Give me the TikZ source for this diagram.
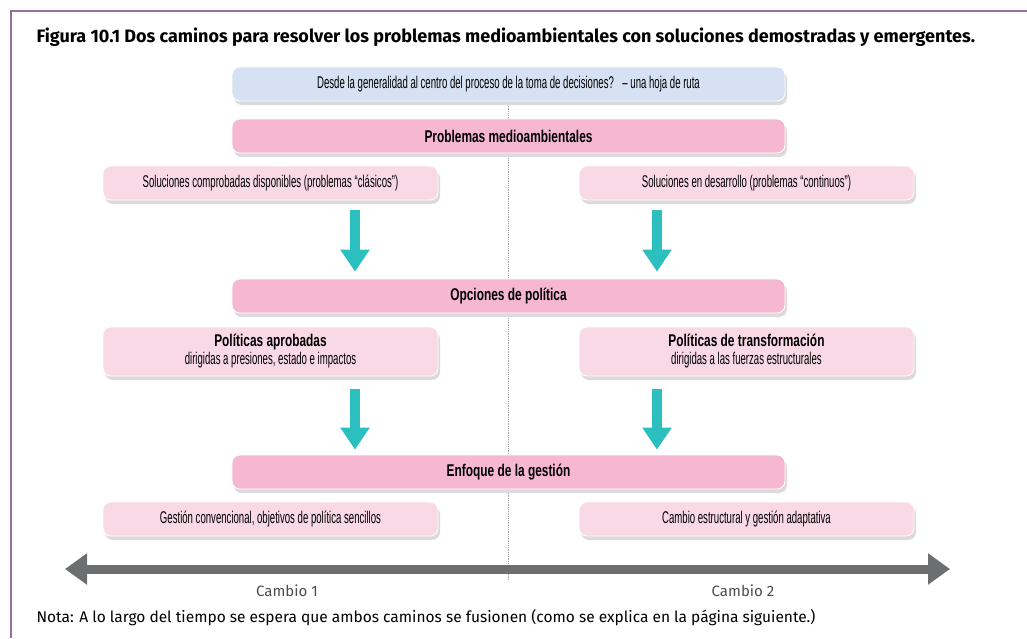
\documentclass[tikz,border=0pt]{standalone}
\usepackage{fontspec}
\setmainfont{Fira Sans}
\newfontfamily\condfont[FakeStretch=0.565]{Liberation Sans}
\newfontfamily\condbold[FakeStretch=0.7]{Liberation Sans Bold}
\usetikzlibrary{arrows.meta,shadows}

\definecolor{framecol}{RGB}{150,110,160}
\definecolor{roadblue}{RGB}{214,226,243}
\definecolor{headpink}{RGB}{245,183,210}
\definecolor{softpink}{RGB}{249,217,229}
\definecolor{tealcol}{RGB}{43,191,191}
\definecolor{timecol}{RGB}{109,110,112}

\begin{document}
\begin{tikzpicture}[
  x=1pt,
  y=-1pt,
  box/.style={rounded corners=8pt, draw=white, line width=0.8pt, align=center,
    font=\condfont\fontsize{17}{18}\selectfont, inner sep=2pt,
    drop shadow={shadow xshift=2pt, shadow yshift=-4pt, fill=black!14, opacity=1}},
  road/.style={box, fill=roadblue, minimum width=553pt, minimum height=34pt},
  stage/.style={box, fill=headpink, minimum width=553pt, minimum height=34pt,
    font=\condbold\fontsize{17}{18}\selectfont},
  path/.style={box, fill=softpink, minimum width=335pt, minimum height=34pt},
  flow/.style={-{Triangle[width=28pt, length=22pt]}, line width=10pt, tealcol},
  timeline/.style={{Triangle[width=30pt, length=22pt]}-{Triangle[width=30pt, length=22pt]},
    line width=9pt, timecol}
]
  \useasboundingbox (0,0) rectangle (1027,638);
  \draw[framecol, line width=1.5pt] (1027,11) -- (11,11) -- (11,638);

  \node[anchor=base west, font=\bfseries\fontsize{18}{20}\selectfont] (title) at (33,42)
    {Figura 10.1 Dos caminos para resolver los problemas medioambientales con soluciones demostradas y emergentes.};

  % middle divider
  \coordinate (divtop) at (508,95);
  \coordinate (divbot) at (508,580);
  \draw[densely dotted, black!35, line width=0.8pt] (divtop) -- (divbot);

  \node[road] (hoja) at (508.5,84) {Desde la generalidad al centro del proceso de la toma de decisiones?\enspace –\ una hoja de ruta};
  \node[stage] (prob) at (508.5,136) {Problemas medioambientales};
  \node[path] (sol1) at (270.5,183) {Soluciones comprobadas disponibles (problemas “clásicos”)};
  \node[path] (sol2) at (746.5,183) {Soluciones en desarrollo (problemas “continuos”)};

  \node[stage] (opc) at (508.5,296) {Opciones de política};
  \node[path, minimum height=49pt] (pol1) at (270.5,351.5)
    {{\condbold Políticas aprobadas}\\dirigidas a presiones, estado e impactos};
  \node[path, minimum height=49pt] (pol2) at (746.5,351.5)
    {{\condbold Políticas de transformación}\\dirigidas a las fuerzas estructurales};

  \node[stage] (enf) at (508.5,472) {Enfoque de la gestión};
  \node[path] (ges1) at (270.5,519) {Gestión convencional, objetivos de política sencillos};
  \node[path] (ges2) at (746.5,519) {Cambio estructural y gestión adaptativa};

  % arrows between the levels
  \coordinate (lane1) at (355,0);
  \coordinate (lane2) at (657,0);
  \draw[flow] ([yshift=-10pt]sol1.south -| lane1) -- ([yshift=7pt]opc.north -| lane1);
  \draw[flow] ([yshift=-10pt]sol2.south -| lane2) -- ([yshift=7pt]opc.north -| lane2);
  \draw[flow] ([yshift=-13pt]pol1.south -| lane1) -- ([yshift=5pt]enf.north -| lane1);
  \draw[flow] ([yshift=-13pt]pol2.south -| lane2) -- ([yshift=5pt]enf.north -| lane2);

  % time line
  \coordinate (tleft) at (65,569);
  \coordinate (tright) at (950,569);
  \draw[timeline] (tleft) -- (tright);
  \node[font=\fontsize{15}{17}\selectfont\color{black!70}] (c1) at (287,591) {Cambio 1};
  \node[font=\fontsize{15}{17}\selectfont\color{black!70}] (c2) at (743,591) {Cambio 2};

  \node[anchor=base west, font=\fontsize{15.5}{17}\selectfont] (nota) at (33,622)
    {Nota: A lo largo del tiempo se espera que ambos caminos se fusionen (como se explica en la página siguiente.)};
\end{tikzpicture}
\end{document}
